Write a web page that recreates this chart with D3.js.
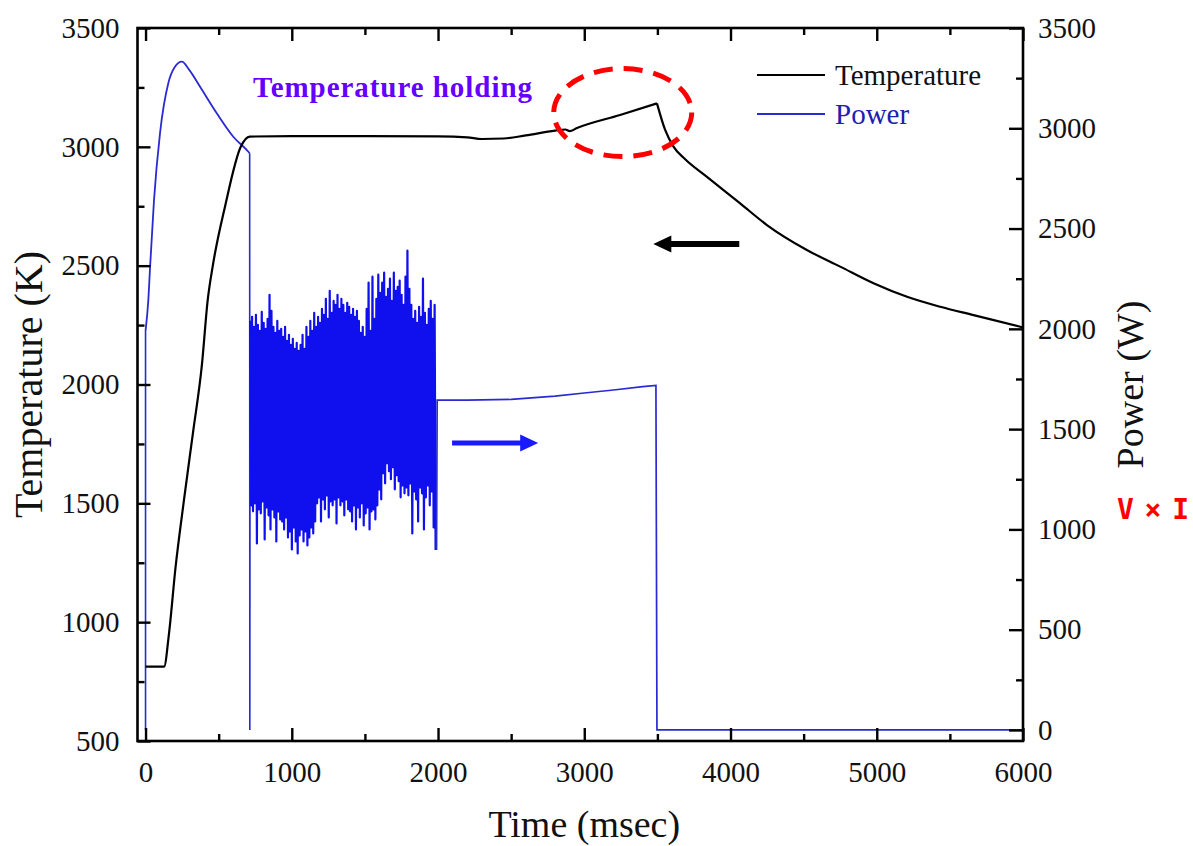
<!DOCTYPE html>
<html>
<head>
<meta charset="utf-8">
<script src="https://cdn.jsdelivr.net/npm/d3@7"></script>
<style>
  body { margin: 0; background: #fff; }
  svg { display: block; }
  text { font-family: "Liberation Serif", "Times New Roman", serif; }
</style>
</head>
<body>
<svg id="chart" width="1193" height="846"></svg>
<script>
// ---- data ----
const timeTicks = [0, 1000, 2000, 3000, 4000, 5000, 6000];
const timeMinor = [500, 1500, 2500, 3500, 4500, 5500];
const tempTicks = [500, 1000, 1500, 2000, 2500, 3000, 3500];
const tempMinor = [750, 1250, 1750, 2250, 2750, 3250];
const powerTicks = [0, 500, 1000, 1500, 2000, 2500, 3000, 3500];
const powerMinor = [250, 750, 1250, 1750, 2250, 2750, 3250];

// temperature (K) vs time (msec): heating + holding, up to the peak
const tempTimeUp = [0, 127, 160, 205, 262, 325, 385, 425, 460, 544, 651, 712, 1000, 1500, 2000, 2200, 2300, 2450, 2600, 2800, 2870, 2900, 2950, 3245, 3497];
const tempValueUp = [813, 813, 950, 1230, 1510, 1800, 2080, 2355, 2500, 2750, 3000, 3043, 3045, 3045, 3044, 3040, 3033, 3035, 3048, 3068, 3073, 3066, 3079, 3134, 3183];
// cooling after the power is cut
const tempTimeDown = [3497, 3553, 3610, 3690, 3839, 4066, 4249, 4522, 4750, 4978, 5207, 5434, 5662, 5981, 6000];
const tempValueDown = [3183, 3071, 3001, 2948, 2874, 2762, 2671, 2566, 2496, 2426, 2369, 2327, 2292, 2243, 2240];

// power (W): switch-on edge and start-up pulse
const onTime = [0, 0];
const onValue = [0, 1990];
const pulseTime = [0, 19, 31, 58, 99, 156, 200, 248, 300, 373, 487, 600, 703, 712];
const pulseValue = [1990, 2143, 2308, 2643, 2976, 3226, 3305, 3332, 3290, 3207, 3075, 2958, 2883, 2875];

// drop at the end of the pulse, then into the noisy section
const dropTime = [712, 713, 715];
const dropValue = [2875, 0, 2040];

// noisy section 715..1990 msec: upper and lower swing of each oscillation
const noiseStart = 715, noiseEnd = 1990;
const noiseHigh = [2040, 2060, 2010, 2070, 2020, 1990, 2085, 2030, 2000, 2050, 2170,
  2090, 2010, 1980, 2040, 1990,
  2000, 1960, 2010, 1940, 1970, 1920, 1950, 1900, 1930, 1890,
  1920, 1970, 1900, 2010, 1960, 2040, 1990, 2080,
  2010, 2060, 2030, 2100, 2070, 2150, 2050, 2190, 2080,
  2140, 2120, 2170, 2100, 2150, 2120, 2080, 2130,
  2110, 2070, 2100, 2060, 2090, 2040, 1980, 2010,
  1960, 2100, 2230, 1990, 2260, 2050,
  2150, 2270, 2180, 2230, 2280, 2160, 2200, 2250, 2140, 2280, 2190, 2210, 2240, 2170, 2120, 2260,
  2390,
  2200, 2120, 2050, 2090, 2030, 2110, 2060, 2250, 2080, 2020, 2100, 2140, 2050, 2120];
const noiseLow = [1120, 1090, 1130, 930, 1100, 1080, 1140, 950, 1110, 1070, 1000,
  1100, 1060, 940, 1090, 1050,
  1040, 1000, 1060, 960, 990, 900, 1010, 940, 880, 970,
  1000, 940, 990, 920, 960, 1010, 980, 1040,
  1130, 1160, 1040, 1150, 1100, 1170, 1060, 1140, 1120,
  1150, 1030, 1160, 1120, 1140, 1070, 1150, 1100,
  1090, 1040, 1120, 1000, 1110, 1060, 1130, 1020,
  1080, 1110, 1000, 1090, 1100, 1050,
  1120, 1200, 1150, 1280, 1230, 1330, 1290, 1250, 1310, 1200, 1270, 1240, 1160, 1220, 1180, 1210,
  1170, 1230, 980, 1190, 1150, 1040, 1210, 1180, 1000, 1160, 1220, 1120, 1190, 1010, 897];

// plateau after the noise and the switch-off
const plateauTime = [1990, 1994, 2200, 2500, 2800, 3000, 3200, 3400, 3490, 3497, 6000];
const plateauValue = [897, 1645, 1645, 1648, 1665, 1680, 1695, 1712, 1718, 0, 0];

// ---- scales ----
const svg = d3.select("#chart");
const plotLeft = 137.5, plotRight = 1023, plotTop = 28, plotBottom = 741;

let x = d3.scaleLinear().domain([-55, 6000]).range([plotLeft, plotRight]);
let yT = d3.scaleLinear().domain([500, 3500]).range([plotBottom, plotTop]);
let yP = d3.scaleLinear().domain([-55, 3500]).range([plotBottom, plotTop]);

const zip = (ts, vs) => ts.map((t, i) => ({t: t, v: vs[i]}));

let noiseIdx = d3.scaleLinear().domain([0, noiseHigh.length]).range([noiseStart, noiseEnd]);
let noiseData = [];
for (let i = 0; i < noiseHigh.length; i++) {
  noiseData.push({t: noiseIdx(i), v: noiseHigh[i]});
  noiseData.push({t: noiseIdx(i + 0.5), v: noiseLow[i]});
}

// ---- lines ----
const blue = "#2a2ad2";
let pLinear = d3.line().x(d => x(d.t)).y(d => yP(d.v));
let pSmooth = d3.line().x(d => x(d.t)).y(d => yP(d.v)).curve(d3.curveMonotoneX);
let tSmooth = d3.line().x(d => x(d.t)).y(d => yT(d.v)).curve(d3.curveMonotoneX);

svg.append("path").datum(zip(onTime, onValue)).attr("d", pLinear)
  .attr("fill", "none").attr("stroke", blue).attr("stroke-width", 1.6);
svg.append("path").datum(zip(pulseTime, pulseValue)).attr("d", pSmooth)
  .attr("fill", "none").attr("stroke", blue).attr("stroke-width", 1.8);
svg.append("path").datum(zip(dropTime, dropValue)).attr("d", pLinear)
  .attr("fill", "none").attr("stroke", blue).attr("stroke-width", 1.6);
svg.append("path").datum(noiseData).attr("d", pLinear)
  .attr("fill", "none").attr("stroke", "#1010ee").attr("stroke-width", 2.2)
  .attr("stroke-linejoin", "round");
svg.append("path").datum(zip(plateauTime, plateauValue)).attr("d", pLinear)
  .attr("fill", "none").attr("stroke", blue).attr("stroke-width", 1.7);

svg.append("path").datum(zip(tempTimeUp, tempValueUp)).attr("d", tSmooth)
  .attr("fill", "none").attr("stroke", "#000").attr("stroke-width", 2.2);
svg.append("path").datum(zip(tempTimeDown, tempValueDown)).attr("d", tSmooth)
  .attr("fill", "none").attr("stroke", "#000").attr("stroke-width", 2.2);

// ---- axes (ticks point inward) ----
function styleAxis(g, fontSize) {
  g.select(".domain").remove();
  g.selectAll("line").attr("stroke", "#000").attr("stroke-width", 2.4);
  g.selectAll("text").attr("fill", "#111").style("font-size", fontSize + "px")
    .style("font-family", "'Liberation Serif', 'Times New Roman', serif");
}

let gb = svg.append("g").attr("transform", `translate(0,${plotBottom})`)
  .call(d3.axisBottom(x).tickValues(timeTicks).tickSize(-13).tickPadding(20).tickFormat(d3.format("d")));
styleAxis(gb, 29);
let gbm = svg.append("g").attr("transform", `translate(0,${plotBottom})`)
  .call(d3.axisBottom(x).tickValues(timeMinor).tickSize(-7).tickFormat(""));
styleAxis(gbm, 29);

let gt = svg.append("g").attr("transform", `translate(0,${plotTop})`)
  .call(d3.axisTop(x).tickValues(timeTicks).tickSize(-13).tickFormat(""));
styleAxis(gt, 29);
let gtm = svg.append("g").attr("transform", `translate(0,${plotTop})`)
  .call(d3.axisTop(x).tickValues(timeMinor).tickSize(-7).tickFormat(""));
styleAxis(gtm, 29);

let gl = svg.append("g").attr("transform", `translate(${plotLeft},0)`)
  .call(d3.axisLeft(yT).tickValues(tempTicks).tickSize(-13).tickPadding(18).tickFormat(d3.format("d")));
styleAxis(gl, 29);
let glm = svg.append("g").attr("transform", `translate(${plotLeft},0)`)
  .call(d3.axisLeft(yT).tickValues(tempMinor).tickSize(-7).tickFormat(""));
styleAxis(glm, 29);

let gr = svg.append("g").attr("transform", `translate(${plotRight},0)`)
  .call(d3.axisRight(yP).tickValues(powerTicks).tickSize(-14).tickPadding(15).tickFormat(d3.format("d")));
styleAxis(gr, 29);
let grm = svg.append("g").attr("transform", `translate(${plotRight},0)`)
  .call(d3.axisRight(yP).tickValues(powerMinor).tickSize(-7).tickFormat(""));
styleAxis(grm, 29);

// frame
svg.append("rect")
  .attr("x", plotLeft).attr("y", plotTop)
  .attr("width", plotRight - plotLeft).attr("height", plotBottom - plotTop)
  .attr("fill", "none").attr("stroke", "#000").attr("stroke-width", 2.6);

// ---- axis titles ----
svg.append("text")
  .attr("x", x(3000)).attr("y", 837)
  .attr("text-anchor", "middle")
  .style("font-size", "38px").attr("fill", "#111")
  .text("Time (msec)");

svg.append("text")
  .attr("transform", `translate(42,${(plotTop + plotBottom) / 2}) rotate(-90)`)
  .attr("text-anchor", "middle")
  .style("font-size", "40px").attr("fill", "#111")
  .text("Temperature (K)");

svg.append("text")
  .attr("transform", `translate(1143,${(plotTop + plotBottom) / 2}) rotate(-90)`)
  .attr("text-anchor", "middle")
  .style("font-size", "38px").attr("fill", "#111")
  .text("Power (W)");

svg.append("text")
  .attr("x", 1117).attr("y", 519)
  .style("font-family", "'DejaVu Sans Mono', monospace")
  .style("font-size", "28px").style("font-weight", "bold").attr("fill", "#ff0000")
  .attr("textLength", 72)
  .text("V×I");

// ---- legend ----
const legend = [
  {name: "Temperature", color: "#000", text: "#111"},
  {name: "Power", color: blue, text: "#2020b0"}
];
let lg = svg.append("g").selectAll("g").data(legend).join("g")
  .attr("transform", (d, i) => `translate(757,${75 + i * 39})`);
lg.append("line").attr("x1", 0).attr("x2", 68)
  .attr("stroke", d => d.color).attr("stroke-width", 2);
lg.append("text").attr("x", 78).attr("y", 10)
  .style("font-size", "29px").attr("fill", d => d.text)
  .text(d => d.name);

// ---- annotations ----
svg.append("text")
  .attr("x", 253).attr("y", 97)
  .style("font-size", "29px").style("font-weight", "bold")
  .attr("fill", "#6400ff")
  .attr("textLength", 279)
  .text("Temperature holding");

svg.append("ellipse")
  .attr("cx", x(3263)).attr("cy", yT(3144))
  .attr("rx", 69).attr("ry", 44)
  .attr("fill", "none").attr("stroke", "#ff0000")
  .attr("stroke-width", 5).attr("stroke-dasharray", "19 11");

function arrow(x1, x2, y, color, shaft) {
  let dir = Math.sign(x2 - x1);
  svg.append("line")
    .attr("x1", x1).attr("x2", x2 - dir * 14).attr("y1", y).attr("y2", y)
    .attr("stroke", color).attr("stroke-width", shaft);
  svg.append("path")
    .attr("d", `M${x2},${y} L${x2 - dir * 18},${y - 8.5} L${x2 - dir * 18},${y + 8.5} Z`)
    .attr("fill", color);
}
arrow(x(4060), x(3472), yT(2591), "#000", 6);
arrow(x(2096), x(2685), yP(1431), "#1a1aff", 5);
</script>
</body>
</html>
